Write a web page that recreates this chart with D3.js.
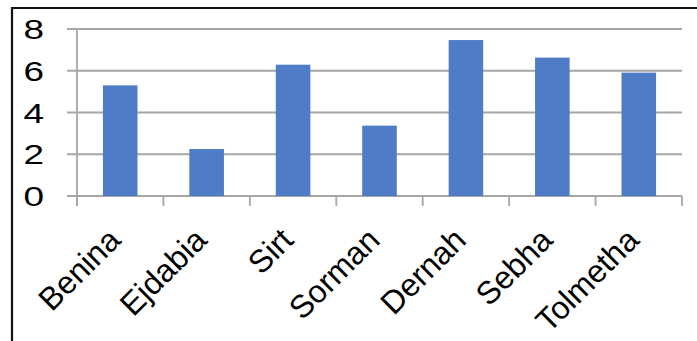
<!DOCTYPE html>
<html>
<head>
<meta charset="utf-8">
<script src="https://cdn.jsdelivr.net/npm/d3@7"></script>
<style>
  html, body { margin: 0; padding: 0; background: #ffffff; }
  svg { display: block; }
</style>
</head>
<body>
<svg id="chart" width="697" height="341"></svg>
<script>
// Station names and their values
const categories = ["Benina", "Ejdabia", "Sirt", "Sorman", "Dernah", "Sebha", "Tolmetha"];
const values = [5.3, 2.25, 6.29, 3.37, 7.47, 6.63, 5.91];
const yTicks = [0, 2, 4, 6, 8];

const svg = d3.select("#chart");
const W = 697, H = 341;
const plot = { left: 77, right: 682, top: 29, bottom: 196 };

const x = d3.scaleBand()
  .domain(categories)
  .range([plot.left, plot.right])
  .paddingInner(0.6)
  .paddingOuter(0.3);

const y = d3.scaleLinear()
  .domain([0, 8])
  .range([plot.bottom, plot.top]);

const gridColor = "#a6a6a6";
const font = "'Liberation Sans', Arial, sans-serif";

// Frame: top and left edges
svg.append("line")
  .attr("x1", 11).attr("x2", W).attr("y1", 8).attr("y2", 8)
  .attr("stroke", "#111").attr("stroke-width", 2.2);
svg.append("line")
  .attr("x1", 12).attr("x2", 12).attr("y1", 7).attr("y2", H)
  .attr("stroke", "#111").attr("stroke-width", 2.2);

// Horizontal gridlines (extending left as tick marks)
svg.append("g").selectAll("line")
  .data(yTicks)
  .join("line")
  .attr("x1", plot.left - 10).attr("x2", plot.right)
  .attr("y1", d => y(d)).attr("y2", d => y(d))
  .attr("stroke", gridColor).attr("stroke-width", 1.8);

// Vertical value axis line
svg.append("line")
  .attr("x1", plot.left).attr("x2", plot.left)
  .attr("y1", y(8)).attr("y2", y(0) + 10)
  .attr("stroke", gridColor).attr("stroke-width", 1.8);

// Category boundary ticks
const step = x.step();
const boundaries = d3.range(categories.length + 1).map(i => plot.left + i * step);
svg.append("g").selectAll("line")
  .data(boundaries)
  .join("line")
  .attr("x1", d => d).attr("x2", d => d)
  .attr("y1", y(0)).attr("y2", y(0) + 10)
  .attr("stroke", gridColor).attr("stroke-width", 1.8);

// Bars
svg.append("g").selectAll("rect")
  .data(values)
  .join("rect")
  .attr("x", (d, i) => x(categories[i]))
  .attr("width", x.bandwidth())
  .attr("y", d => y(d))
  .attr("height", d => y(0) - y(d))
  .attr("fill", "#4f7cc6");

// Value axis labels
svg.append("g").selectAll("text")
  .data(yTicks)
  .join("text")
  .attr("transform", d => `translate(44,${y(d)}) scale(1.32,1)`)
  .attr("text-anchor", "end")
  .attr("dy", "0.36em")
  .attr("font-family", font)
  .attr("font-size", 28)
  .attr("fill", "#000")
  .text(d => d);

// Category labels, rotated; baseline ends just below each category centre
svg.append("g").selectAll("text")
  .data(categories)
  .join("text")
  .attr("transform", d => `translate(${x(d) + x.bandwidth() / 2 + 2},${y(0) + 46}) rotate(-45)`)
  .attr("text-anchor", "end")
  .attr("font-family", font)
  .attr("font-size", 32)
  .attr("fill", "#000")
  .text(d => d);
</script>
</body>
</html>
